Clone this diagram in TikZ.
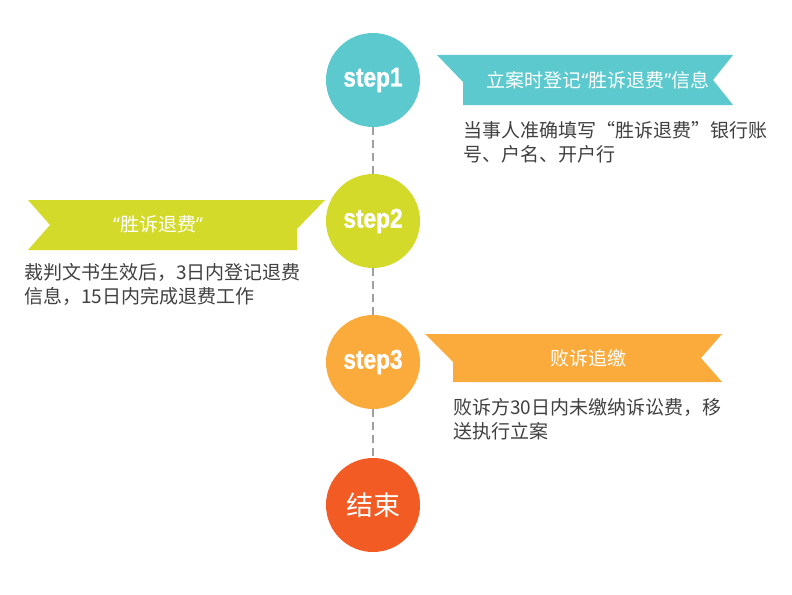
\documentclass[tikz,border=0pt]{standalone}
\usepackage{fontspec}
\setmainfont{Noto Sans CJK SC}
\newfontfamily\cjk{Noto Sans CJK SC}
\newfontfamily\latq{Noto Sans}
\newfontfamily\stepfont[FakeStretch=0.84,FakeBold=1.2]{Liberation Sans}
\newcommand{\myLQ}{{\latq “}}
\newcommand{\myRQ}{{\latq ”}}
\definecolor{cteal}{HTML}{5BC9CD}
\definecolor{clime}{HTML}{D4DA2A}
\definecolor{corange}{HTML}{FBAB3C}
\definecolor{cend}{HTML}{F25B23}
\definecolor{cdash}{HTML}{A0A0A0}
\definecolor{ctext}{HTML}{404040}
\tikzset{
  stepcircle/.style={circle, minimum size=94pt, inner sep=0pt, text=white,
    font=\stepfont\bfseries\fontsize{27}{27}\selectfont},
  ribbontext/.style={text=white, inner sep=0pt, font=\cjk\fontsize{19}{19}\selectfont},
  desctext/.style={text=ctext, inner sep=0pt, align=left, anchor=base west,
    font=\cjk\fontsize{19}{24}\selectfont},
  linkline/.style={cdash, line width=1.4pt, dash pattern=on 8pt off 5pt},
}
\begin{document}
\begin{tikzpicture}[x=1pt,y=-1pt]
\useasboundingbox (0,0) rectangle (792,594);
% circles
\node[stepcircle, fill=cteal] (s1) at (373,80) {step1};
\node[stepcircle, fill=clime] (s2) at (373,221) {step2};
\node[stepcircle, fill=corange] (s3) at (373,362) {step3};
\node[stepcircle, fill=cend, font=\cjk\fontsize{27}{27}\selectfont] (s4) at (373,505) {结束};
% connectors
\draw[linkline] (s1.south) -- (s2.north);
\draw[linkline] (s2.south) -- (s3.north);
\draw[linkline] (s3.south) -- (s4.north);
% ribbons
\fill[cteal] (437,55) -- (733,55) -- (713,80) -- (733,105) -- (463,105) -- (463,82) -- cycle;
\fill[clime] (28,200) -- (325,200) -- (297,229) -- (297,250) -- (28,250) -- (50,225) -- cycle;
\fill[corange] (425,334) -- (722,334) -- (701,358) -- (722,382) -- (453,382) -- (453,362) -- cycle;
\node[ribbontext] (r1) at (598,80) {立案时登记\myLQ 胜诉退费\myRQ 信息};
\node[ribbontext] (r2) at (158,224) {\myLQ 胜诉退费\myRQ};
\node[ribbontext] (r3) at (588,358) {败诉追缴};
% descriptions
\node[desctext] (d1) at (463,161) {当事人准确填写“胜诉退费”银行账\\号、户名、开户行};
\node[desctext] (d2) at (24,303) {裁判文书生效后，3日内登记退费\\信息，15日内完成退费工作};
\node[desctext] (d3) at (453,438) {败诉方30日内未缴纳诉讼费，移\\送执行立案};
\end{tikzpicture}
\end{document}
